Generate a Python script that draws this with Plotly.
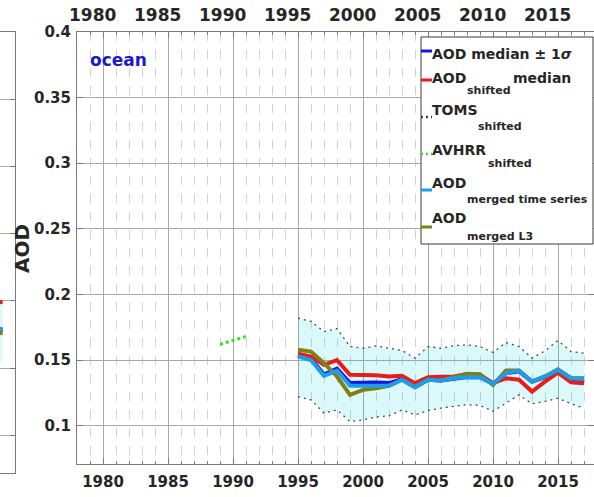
import plotly.graph_objects as go

W, H = 594, 497

# ---------------- data ----------------
years = list(range(1995, 2018))
aod_median = [0.1535, 0.151, 0.139, 0.1435, 0.1325, 0.133, 0.133, 0.1325, 0.1355, 0.1295,
              0.135, 0.1345, 0.136, 0.137, 0.137, 0.132, 0.140, 0.1415, 0.1335, 0.137,
              0.142, 0.134, 0.133]
aod_merged_ts = [0.1527, 0.150, 0.138, 0.142, 0.1304, 0.1304, 0.131, 0.1304, 0.135, 0.1294,
                 0.135, 0.1345, 0.1362, 0.137, 0.137, 0.1319, 0.140, 0.142, 0.1337, 0.1375,
                 0.1425, 0.1362, 0.1355]
aod_shifted = [0.1548, 0.1527, 0.1464, 0.150, 0.1388, 0.1388, 0.1385, 0.1375, 0.138, 0.1324,
               0.137, 0.1372, 0.1375, 0.1393, 0.1388, 0.1324, 0.1362, 0.135, 0.126, 0.1335,
               0.1405, 0.133, 0.1324]
aod_merged_l3 = [0.1578, 0.1565, 0.1477, 0.1375, 0.1235, 0.1273, 0.1286, 0.1304, 0.135, 0.1294,
                 0.135, 0.1345, 0.137, 0.1395, 0.1393, 0.131, 0.142, 0.142, 0.1337, 0.1375,
                 0.143, 0.1362, 0.1362]
sigma_upper = [0.1819, 0.1795, 0.1717, 0.174, 0.1603, 0.159, 0.1608, 0.159, 0.1573, 0.1515,
               0.1603, 0.159, 0.161, 0.1616, 0.1603, 0.1558, 0.1634, 0.1603, 0.1515, 0.157,
               0.1649, 0.1565, 0.1553]
sigma_lower = [0.1222, 0.1197, 0.1096, 0.112, 0.1032, 0.1045, 0.1066, 0.1076, 0.112, 0.1083,
               0.1115, 0.1134, 0.1147, 0.116, 0.1155, 0.111, 0.1172, 0.1235, 0.1167, 0.1185,
               0.121, 0.1167, 0.1134]
avhrr_years = [1989, 1990, 1991]
avhrr_shifted = [0.162, 0.165, 0.168]

# neighbouring (land) panel, only its last year is visible at the left edge
left_years = [2016, 2017]
left_median = [0.178, 0.178]
left_merged_ts = [0.179, 0.179]
left_merged_l3 = [0.176, 0.176]
left_shifted = [0.199, 0.199]
left_upper = [0.199, 0.199]
left_lower = [0.1545, 0.1545]

x_ticks = list(range(1980, 2016, 5))
y_ticks = [0.1, 0.15, 0.2, 0.25, 0.3, 0.35, 0.4]
y_tick_text = ["0.1", "0.15", "0.2", "0.25", "0.3", "0.35", "0.4"]
top_panel_labels = [str(y) for y in x_ticks]

# ---------------- styles ----------------
C_BLUE = "#1414e6"
C_RED = "#e81c1c"
C_LBLUE = "#1e9de8"
C_OLIVE = "#7f7f14"
C_GREEN = "#33dd33"
C_FILL = "rgba(0,215,225,0.14)"
C_EDGE = "#4a4a4a"
AX = "#7a7a7a"
GRID = "#a8a8a8"
MINOR = "#d2d2d2"
TXT = "#262626"
FONT = "DejaVu Sans"
LW = 4

fig = go.Figure()


def add_series(xs, ys, color, xa="x", ya="y", width=LW, dash=None):
    fig.add_trace(go.Scatter(x=xs, y=ys, mode="lines", xaxis=xa, yaxis=ya,
                             line=dict(color=color, width=width, dash=dash),
                             showlegend=False, hoverinfo="skip"))


# main panel: band
fig.add_trace(go.Scatter(x=years, y=sigma_upper, mode="lines", line=dict(width=0),
                         showlegend=False, hoverinfo="skip"))
fig.add_trace(go.Scatter(x=years, y=sigma_lower, mode="lines", line=dict(width=0),
                         fill="tonexty", fillcolor=C_FILL, showlegend=False, hoverinfo="skip"))
add_series(years, sigma_upper, C_EDGE, width=1.3, dash="2px,4px")
add_series(years, sigma_lower, C_EDGE, width=1.3, dash="2px,4px")
add_series(years, aod_median, C_BLUE)
add_series(years, aod_shifted, C_RED)
add_series(years, aod_merged_l3, C_OLIVE)
add_series(years, aod_merged_ts, C_LBLUE)
add_series(avhrr_years, avhrr_shifted, C_GREEN, width=3, dash="3px,3px")

# left neighbour panel
fig.add_trace(go.Scatter(x=left_years, y=left_upper, mode="lines", line=dict(width=0),
                         xaxis="x2", yaxis="y2", showlegend=False, hoverinfo="skip"))
fig.add_trace(go.Scatter(x=left_years, y=left_lower, mode="lines", line=dict(width=0),
                         fill="tonexty", fillcolor=C_FILL, xaxis="x2", yaxis="y2",
                         showlegend=False, hoverinfo="skip"))
add_series(left_years, left_median, C_BLUE, "x2", "y2")
add_series(left_years, left_shifted, C_RED, "x2", "y2")
add_series(left_years, left_merged_l3, C_OLIVE, "x2", "y2")
add_series(left_years, left_merged_ts, C_LBLUE, "x2", "y2")


def px_x(p):
    return p / W


def px_y(p):
    return 1 - p / H


tickfont = dict(family=FONT, size=15, color=TXT, weight="bold")

fig.update_layout(
    width=W, height=H, margin=dict(l=0, r=0, t=0, b=0, autoexpand=False),
    paper_bgcolor="white", plot_bgcolor="white", showlegend=False,
    xaxis=dict(domain=[px_x(77), 1.0], range=[1978, 1978 + 517 / 13], anchor="y",
               tick0=1980, dtick=5, ticks="inside", ticklen=6, tickcolor=AX,
               showline=True, linecolor=AX, linewidth=1, mirror="ticks",
               showgrid=True, gridcolor=GRID, gridwidth=1, zeroline=False,
               minor=dict(tick0=1980, dtick=1, showgrid=True, gridcolor=MINOR,
                          griddash="dash", ticks="inside", ticklen=3, tickcolor=AX),
               tickfont=tickfont, ticklabelstandoff=4, automargin=False),
    yaxis=dict(domain=[px_y(464), px_y(32)], range=[0.4 - 432 / 1312.3, 0.4], anchor="x",
               tickvals=y_ticks, ticktext=y_tick_text, ticks="inside", ticklen=6,
               tickcolor=AX, showline=True, linecolor=AX, linewidth=1, mirror="ticks",
               showgrid=True, gridcolor=GRID, zeroline=False, tickfont=tickfont,
               ticklabelstandoff=2, automargin=False),
    xaxis2=dict(domain=[0, px_x(15)], range=[2016.8, 2016.8 + 15 / 13], anchor="y2",
                showticklabels=False, ticks="", showline=True, linecolor=AX, mirror=True,
                showgrid=False, zeroline=False, automargin=False,
                minor=dict(tick0=2015, dtick=1, showgrid=True, gridcolor=MINOR,
                           griddash="dash")),
    yaxis2=dict(domain=[px_y(473), px_y(32)], range=[0.4 - 441 / 1344, 0.4], anchor="x2",
                side="right", tickvals=y_ticks, showticklabels=False, ticks="inside",
                ticklen=5, tickcolor=AX, showline=True, linecolor=AX, mirror=False,
                showgrid=True, gridcolor=GRID, zeroline=False, automargin=False),
)

annotations = []


def ann(x, y, text, size, color=TXT, xanchor="left", yanchor="middle", angle=0,
        xref="paper", bold=True):
    annotations.append(dict(x=x, y=y, xref=xref, yref="paper", text=text, showarrow=False,
                            xanchor=xanchor, yanchor=yanchor, textangle=angle,
                            borderpad=0,
                            font=dict(family=FONT, size=size, color=color,
                                      weight="bold" if bold else "normal")))


ann(px_x(89), px_y(60), "ocean", 17, color="#1a1ad0")
ann(px_x(22), px_y(249), "AOD", 20, xanchor="center", angle=-90)

# tick labels of the panel above (cut by the top edge)
for yr, lab in zip(x_ticks, top_panel_labels):
    ann(yr - 11 / 13, px_y(15), lab, 17, xanchor="center", yanchor="middle", xref="x")

# manual legend
shapes = [dict(type="rect", xref="paper", yref="paper", x0=px_x(421), x1=px_x(593),
               y0=px_y(244), y1=px_y(37), line=dict(color="#3a3a3a", width=1),
               fillcolor="white", layer="above")]

legend_rows = [
    (51, C_BLUE, None, 54, "AOD median ± 1<i>σ</i>", None, None, None),
    (80, C_RED, None, 78, "AOD", "shifted", 91, "median"),
    (117, "#444444", "dot", 110, "TOMS", "shifted", 126, None),
    (154, C_GREEN, "dot", 150, "AVHRR", "shifted", 163, None),
    (190, C_LBLUE, None, 183, "AOD", "merged time series", 199, None),
    (227, C_OLIVE, None, 218, "AOD", "merged L3", 236, None),
]
sub_x = {"AOD": 466, "TOMS": 477, "AVHRR": 487}
for ly, col, dash, ty, main, sub, sy, tail in legend_rows:
    shapes.append(dict(type="line", xref="paper", yref="paper", x0=px_x(421), x1=px_x(432),
                       y0=px_y(ly), y1=px_y(ly),
                       line=dict(color=col, width=3 if dash is None else 2.5,
                                 dash=dash if dash is None else "2px,3px"),
                       layer="above"))
    ann(px_x(431), px_y(ty), main, 14)
    if sub:
        ann(px_x(sub_x[main]), px_y(sy), sub, 11)
    if tail:
        ann(px_x(512), px_y(ty), tail, 14)

fig.update_layout(annotations=annotations, shapes=shapes)
fig.write_html(
    "out.html",
    config={"displayModeBar": False},
    post_script="document.body.style.margin='0';document.body.style.overflow='hidden';",
)
